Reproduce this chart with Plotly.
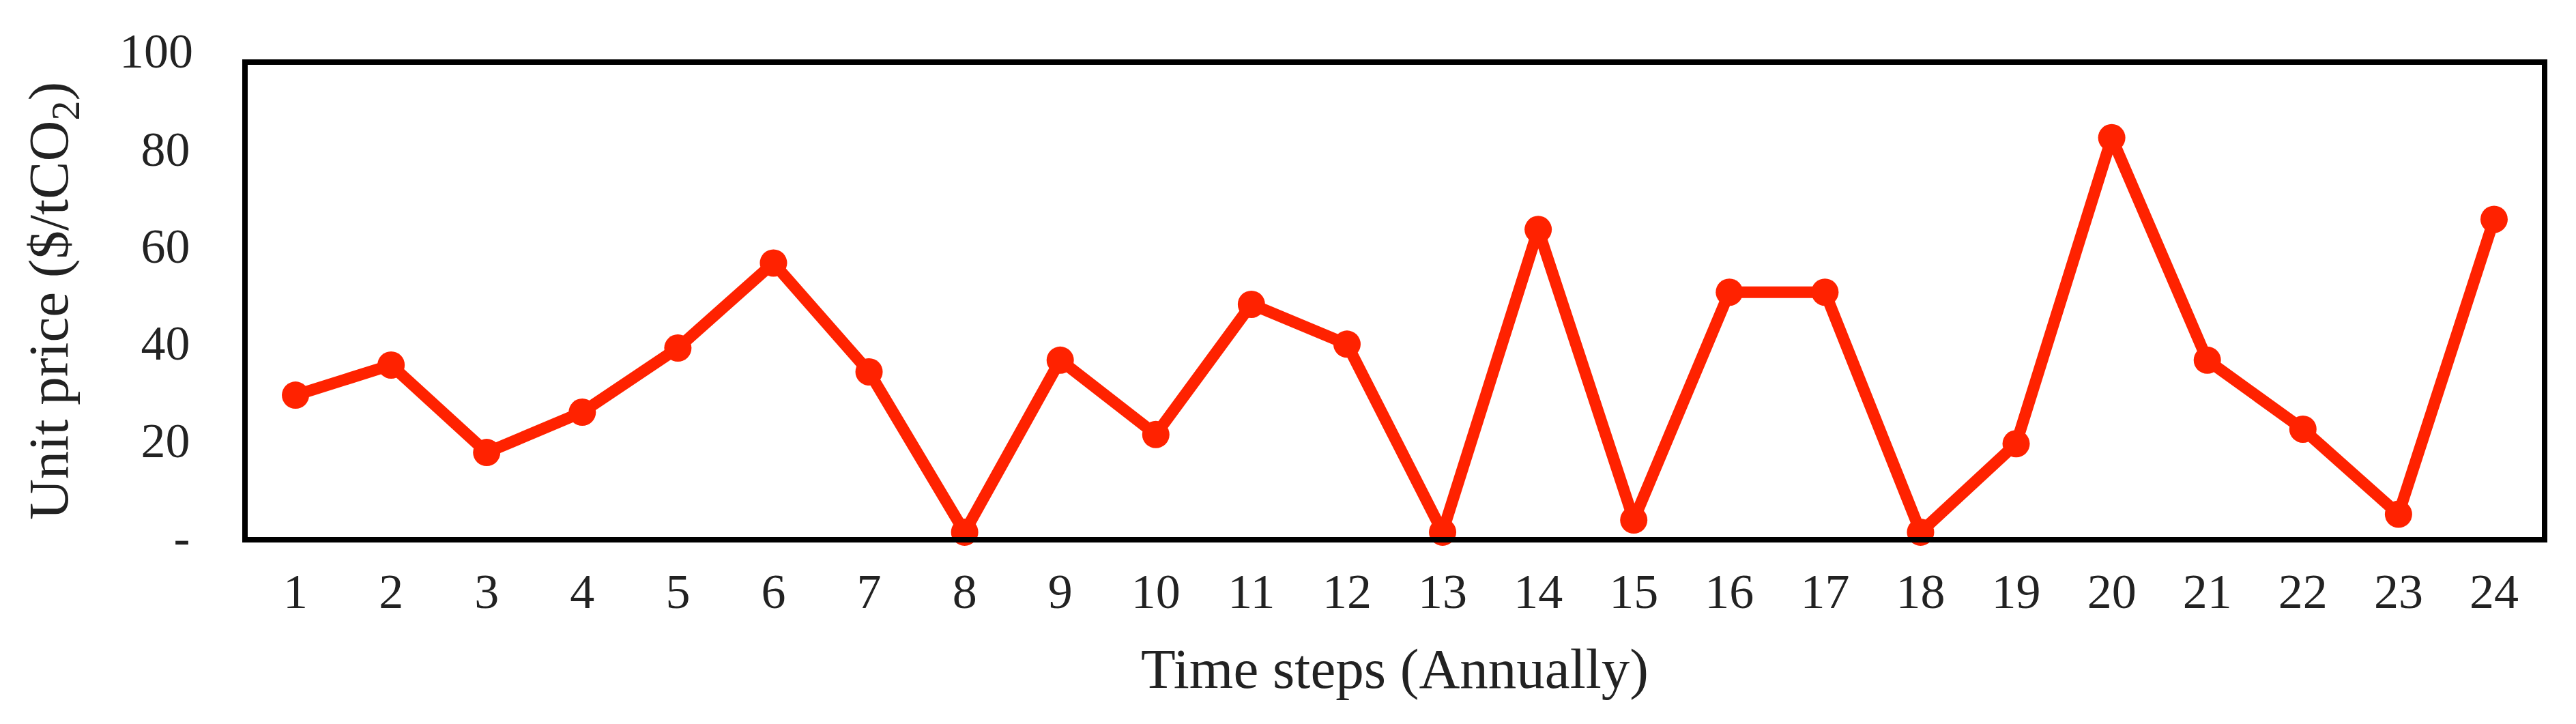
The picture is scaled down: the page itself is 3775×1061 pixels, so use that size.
import plotly.graph_objects as go

# annual time steps and unit carbon price ($/tCO2)
steps = list(range(1, 25))
unit_price = [29.2, 35.4, 17.4, 25.7, 38.9, 56.4, 34.0, 1.0, 36.4, 21.1, 47.9, 39.7,
              1.0, 63.3, 3.5, 50.4, 50.4, 1.0, 19.2, 82.2, 36.4, 22.2, 4.7, 65.4]

y_ticks = [0, 20, 40, 60, 80]
y_tick_text = ["-", "20", "40", "60", "80"]
Y_TOP = 97.2      # frame top sits just under 100
TOP_LABEL = 100   # its label is drawn above the frame

FONT = "Liberation Serif, Times New Roman, serif"
RED = "#FF2200"

fig = go.Figure()
fig.add_trace(go.Scatter(
    x=steps, y=unit_price, mode="lines+markers",
    line={"color": RED, "width": 17},
    marker={"color": RED, "size": 40, "symbol": "circle"},
    showlegend=False, cliponaxis=False,
))

fig.update_layout(
    width=3775, height=1061,
    margin={"l": 355, "r": 58, "t": 87, "b": 282},
    paper_bgcolor="white", plot_bgcolor="white",
    font={"family": FONT, "color": "#222", "size": 72},
    xaxis={
        "range": [0.5, 24.5], "tickmode": "array", "tickvals": steps,
        "showgrid": False, "zeroline": False,
        "showline": True, "linecolor": "black", "linewidth": 8, "mirror": True,
        "ticks": "", "ticklabelstandoff": 10,
        "tickfont": {"size": 72, "family": FONT},
        "title": {"text": "Time steps (Annually)", "font": {"size": 83, "family": FONT},
                  "standoff": 46},
    },
    yaxis={
        "range": [0, Y_TOP], "tickmode": "array", "tickvals": y_ticks,
        "ticktext": y_tick_text,
        "showgrid": False, "zeroline": False,
        "showline": True, "linecolor": "black", "linewidth": 8, "mirror": True,
        "ticks": "", "ticklabelstandoff": 62,
        "tickfont": {"size": 72, "family": FONT},
        "title": {"text": "Unit price ($/tCO<sub>2</sub>)", "font": {"size": 83, "family": FONT},
                  "standoff": 83},
    },
)

fig.add_annotation(
    text=str(TOP_LABEL), x=0, xref="paper", y=TOP_LABEL / Y_TOP, yref="paper",
    xanchor="right", yanchor="middle", xshift=-78, showarrow=False,
    font={"size": 72, "family": FONT, "color": "#222"},
)

fig.write_html("out.html")
